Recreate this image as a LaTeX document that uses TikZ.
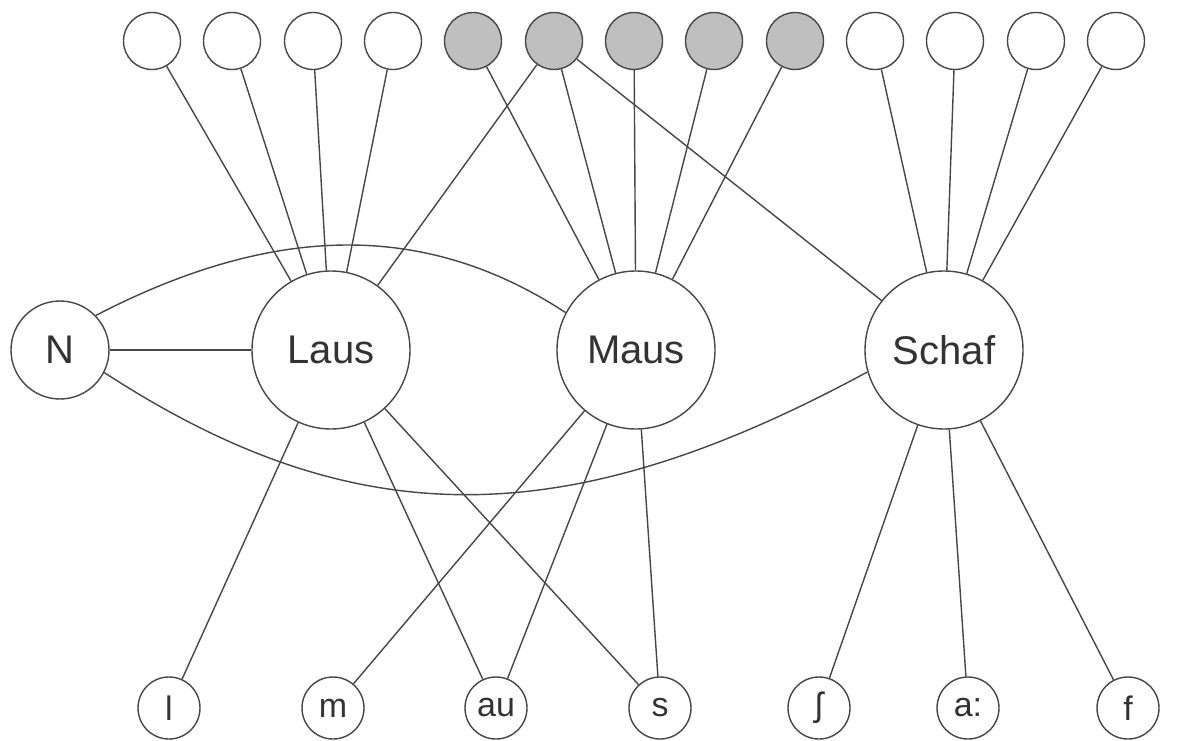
\documentclass[tikz,border=0pt]{standalone}
\usepackage{fontspec}
\setmainfont{Liberation Sans}
\begin{document}
\begin{tikzpicture}[x=1pt,y=-1pt,
  ink/.style={draw=black!72, line width=1.4pt},
  edge/.style={ink},
  topc/.style={circle, ink, fill=white, minimum size=57pt, inner sep=0pt},
  greyc/.style={topc, fill=black!25},
  word/.style={circle, ink, fill=white, minimum size=158pt, inner sep=0pt, text=black!80, font=\fontsize{40}{48}\selectfont},
  nodeN/.style={word, minimum size=98pt},
  phon/.style={circle, ink, fill=white, minimum size=62pt, inner sep=0pt, text=black!80, font=\fontsize{34}{40}\selectfont}]
\useasboundingbox[fill=white] (0,0) rectangle (1181,741);
% top feature nodes
\node[topc]  (t1)  at (152,41) {};
\node[topc]  (t2)  at (232,41) {};
\node[topc]  (t3)  at (313,41) {};
\node[topc]  (t4)  at (393,41) {};
\node[greyc] (t5)  at (473,41) {};
\node[greyc] (t6)  at (554,41) {};
\node[greyc] (t7)  at (634,41) {};
\node[greyc] (t8)  at (714,41) {};
\node[greyc] (t9)  at (795,41) {};
\node[topc]  (t10) at (875,41) {};
\node[topc]  (t11) at (955,41) {};
\node[topc]  (t12) at (1036,41) {};
\node[topc]  (t13) at (1116,41) {};
% word nodes
\node[nodeN] (N) at (60,350) {N};
\node[word] (Laus)  at (331,350) {Laus};
\node[word] (Maus)  at (636,350) {Maus};
\node[word] (Schaf) at (944,350) {Schaf};
% phoneme nodes
\node[phon] (l)  at (169,708) {l};
\node[phon] (m)  at (333,708) {m};
\node[phon] (au) at (496,708) {au};
\node[phon] (s)  at (660,708) {s};
\node[phon] (sh) at (819,708) {ʃ};
\node[phon] (aa) at (968,708) {a:};
\node[phon] (f)  at (1128,708) {f};
% edges
\foreach \t in {t1,t2,t3,t4,t6} \draw[edge] (\t) -- (Laus);
\foreach \t in {t5,t6,t7,t8,t9} \draw[edge] (\t) -- (Maus);
\foreach \t in {t6,t10,t11,t12,t13} \draw[edge] (\t) -- (Schaf);
\foreach \b in {l,au,s} \draw[edge] (Laus) -- (\b);
\foreach \b in {m,au,s} \draw[edge] (Maus) -- (\b);
\foreach \b in {sh,aa,f} \draw[edge] (Schaf) -- (\b);
\draw[edge] (N) -- (Laus);
\draw[edge] (N.44) .. controls (280,220) and (430,224) .. (Maus.152);
\draw[edge] (N.-27) .. controls (357,537) and (568,534) .. (Schaf.196);
\end{tikzpicture}
\end{document}
